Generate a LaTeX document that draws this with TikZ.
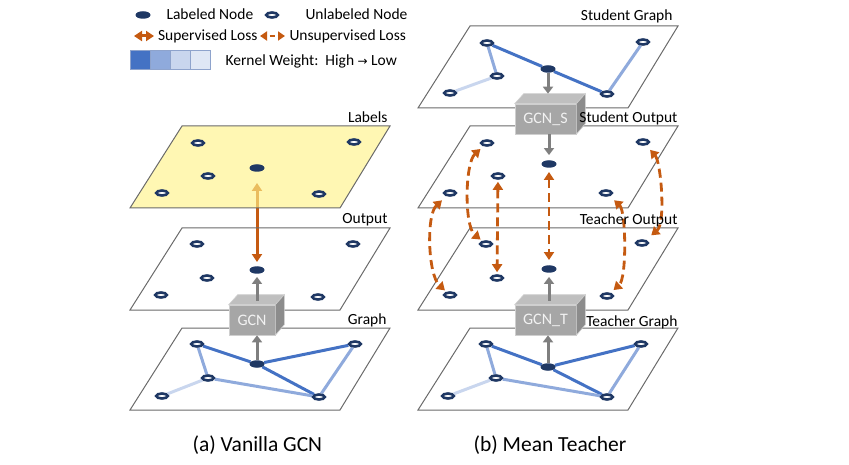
\documentclass[tikz,border=0pt]{standalone}
\usepackage{fontspec}
\setmainfont{Carlito}
\newfontfamily\dejavu{DejaVu Sans}
\usetikzlibrary{arrows.meta,shapes.geometric,calc}
\pgfdeclarelayer{under}
\pgfdeclarelayer{mid}
\pgfsetlayers{under,mid,main}
\definecolor{navy}{HTML}{1F3864}
\definecolor{kw1}{HTML}{4472C4}
\definecolor{kw2}{HTML}{8FAADC}
\definecolor{kw3}{HTML}{C9D6EE}
\definecolor{kw4}{HTML}{DFE7F5}
\definecolor{kwborder}{HTML}{8EA3CC}
\definecolor{orng}{HTML}{C55A11}
\definecolor{arrgray}{HTML}{7F7F7F}
\definecolor{planeline}{HTML}{6A6A6A}
\definecolor{lblyellow}{HTML}{FFF38A}
\definecolor{boxfrontc}{HTML}{A6A6A6}
\definecolor{boxtopc}{HTML}{BFBFBF}
\definecolor{boxsidec}{HTML}{8C8C8C}
\definecolor{boxedgec}{HTML}{CFCFCF}
\newcommand\myplane[3][]{%
  \draw[plane,#1] (#2,#3) -- ++(208,0) -- ++(-50,82) -- ++(-210,0) -- cycle;}
\newcommand\gcnfaces[1]{%
  \filldraw[fill=boxtopc, draw=boxedgec, line width=0.6pt] (#1.north west) -- ++(9,-10) -- ($(#1.north east)+(9,-10)$) -- (#1.north east) -- cycle;
  \filldraw[fill=boxsidec, draw=boxedgec, line width=0.6pt] (#1.north east) -- ++(9,-10) -- ++(0,30) -- (#1.south east) -- cycle;}
\begin{document}
\begin{tikzpicture}[x=1pt,y=-1pt,
  unl/.style={ellipse, draw=navy, line width=2.6pt, fill=white, minimum width=11.5pt, minimum height=5pt, inner sep=0pt},
  lab/.style={ellipse, fill=navy, minimum width=15pt, minimum height=7.5pt, inner sep=0pt},
  plane/.style={draw=planeline, line width=1pt},
  ehi/.style={draw=kw1, line width=3pt},
  emid/.style={draw=kw2, line width=3pt},
  elo/.style={draw=kw3, line width=3pt},
  garrow/.style={draw=arrgray, line width=3pt, -{Triangle[width=10pt,length=7pt]}},
  suparrow/.style={draw=orng, line width=3pt, {Triangle[width=10pt,length=8pt]}-{Triangle[width=10pt,length=8pt]}},
  unsarrow/.style={draw=orng, line width=2.8pt, dash pattern=on 9pt off 5pt, {Triangle[width=10pt,length=8pt]}-{Triangle[width=10pt,length=8pt]}},
  boxfront/.style={rectangle, fill=boxfrontc, draw=boxedgec, line width=0.6pt, minimum height=30pt, inner sep=0pt, text=white!95!black, font=\fontsize{16}{18}\selectfont},
  planelbl/.style={anchor=base east, font=\fontsize{15.5}{18}\selectfont},
  legtxt/.style={anchor=base west, font=\fontsize{15.5}{18}\selectfont},
  kbox/.style={rectangle, draw=kwborder, line width=0.8pt, minimum width=20pt, minimum height=19pt, inner sep=0pt},
  captxt/.style={anchor=base west, font=\fontsize{21.5}{26}\selectfont}
]
\useasboundingbox (0,0) rectangle (849,465);

% ---------- planes ----------
\begin{pgfonlayer}{mid}
\myplane[fill=lblyellow, fill opacity=0.65]{182}{126}
\myplane{182}{228}
\myplane{182}{328}
\myplane{470}{26}
\myplane{470}{126}
\myplane{470}{228}
\myplane{470}{328}
\end{pgfonlayer}

% ---------- legend ----------
\node[lab] (legL) at (143,15) {};
\node[legtxt] (legLt) at (163,20) {Labeled Node};
\node[unl] (legU) at (272,15) {};
\node[legtxt] (legUt) at (302,20) {Unlabeled Node};
\coordinate (sa1) at (134,36);
\coordinate (sa2) at (154,36);
\draw[suparrow] (sa1) -- (sa2);
\node[legtxt] (legSt) at (154.5,41) {Supervised Loss};
\coordinate (ua1) at (260,36);
\coordinate (ua2) at (285,36);
\draw[orng, line width=2.5pt, dash pattern=on 5pt off 3pt, dash phase=5pt, {Triangle[width=9pt,length=7pt]}-{Triangle[width=9pt,length=7pt]}] (ua1) -- (ua2);
\node[legtxt] (legUst) at (286,41) {Unsupervised Loss};
\node[kbox, fill=kw1] (k1) at (140,60) {};
\node[kbox, fill=kw2] (k2) at (160,60) {};
\node[kbox, fill=kw3] (k3) at (180,60) {};
\node[kbox, fill=kw4] (k4) at (200,60) {};
\node[legtxt] (legK) at (222,66) {Kernel Weight:\ \ High {\dejavu\fontsize{12}{12}\selectfont →} Low};

% ---------- left: Labels ----------
\node[unl] (l1) at (198,143) {};
\node[unl] (l2) at (354,142) {};
\node[lab] (lL) at (257,168) {};
\node[unl] (l3) at (208,176) {};
\node[unl] (l4) at (162,193) {};
\node[unl] (l5) at (319,194) {};
% ---------- left: Output ----------
\node[unl] (o1) at (197,244) {};
\node[unl] (o2) at (353,244) {};
\node[lab] (oL) at (257,270) {};
\node[unl] (o3) at (207,278) {};
\node[unl] (o4) at (161,295) {};
\node[unl] (o5) at (318,297) {};
% ---------- left: Graph ----------
\node[unl] (g1) at (197,344) {};
\node[unl] (g2) at (355,344) {};
\node[lab] (gL) at (257,364) {};
\node[unl] (g3) at (208,378) {};
\node[unl] (g4) at (162,396) {};
\node[unl] (g5) at (319,397) {};
% ---------- right: Student Graph ----------
\node[unl] (s1) at (487,43) {};
\node[unl] (s2) at (643,42) {};
\node[lab] (sL) at (548,69) {};
\node[unl] (s3) at (497,76) {};
\node[unl] (s4) at (450,93) {};
\node[unl] (s5) at (607,94) {};
% ---------- right: Student Output ----------
\node[unl] (so1) at (487,143) {};
\node[unl] (so2) at (643,142) {};
\node[lab] (soL) at (549,164) {};
\node[unl] (so3) at (498,176) {};
\node[unl] (so4) at (450,193) {};
\node[unl] (so5) at (606,193) {};
% ---------- right: Teacher Output ----------
\node[unl] (to1) at (486,244) {};
\node[unl] (to2) at (642,243) {};
\node[lab] (toL) at (549,269) {};
\node[unl] (to3) at (497,278) {};
\node[unl] (to4) at (450,295) {};
\node[unl] (to5) at (607,296) {};
% ---------- right: Teacher Graph ----------
\node[unl] (t1) at (486,344) {};
\node[unl] (t2) at (641,344) {};
\node[lab] (tL) at (548,367) {};
\node[unl] (t3) at (496,378) {};
\node[unl] (t4) at (448,396) {};
\node[unl] (t5) at (607,397) {};

% ---------- graph edges ----------
\begin{pgfonlayer}{mid}
\draw[ehi] (g1) -- (gL);
\draw[ehi] (gL) -- (g2);
\draw[ehi] (gL) -- (g5);
\draw[emid] (g1) -- (g3);
\draw[emid] (g3) -- (g5);
\draw[emid] (g2) -- (g5);
\draw[elo] (g3) -- (g4);
\draw[ehi] (s1) -- (sL);
\draw[ehi] (sL) -- (s5);
\draw[emid] (s1) -- (s3);
\draw[emid] (s2) -- (s5);
\draw[elo] (s3) -- (s4);
\draw[ehi] (t1) -- (tL);
\draw[ehi] (tL) -- (t2);
\draw[ehi] (tL) -- (t5);
\draw[emid] (t1) -- (t3);
\draw[emid] (t3) -- (t5);
\draw[emid] (t2) -- (t5);
\draw[elo] (t3) -- (t4);
\end{pgfonlayer}

% ---------- supervised loss (under the yellow plane) ----------
\begin{pgfonlayer}{under}
\draw[suparrow, shorten <=11pt, shorten >=4pt] (lL) -- (oL);
\end{pgfonlayer}

% ---------- GCN boxes ----------
\node[boxfront, minimum width=46pt] (gcn) at (252,320) {GCN};
\gcnfaces{gcn}
\node[boxfront, minimum width=61pt] (gcnS) at (545.5,119) {GCN\_S};
\gcnfaces{gcnS}
\node[boxfront, minimum width=61pt] (gcnT) at (545.5,320) {GCN\_T};
\gcnfaces{gcnT}

% ---------- gray arrows ----------
\draw[garrow] (gL) -- (gL |- gcn.south);
\draw[garrow, shorten >=3pt] ($(gcn.north -| oL)+(0,-4)$) -- (oL);
\draw[garrow] (sL) -- ($(gcnS.north -| sL)+(0,-10)$);
\draw[garrow, shorten >=5pt] (gcnS.south -| soL) -- (soL);
\draw[garrow] (tL) -- (tL |- gcnT.south);
\draw[garrow, shorten >=4pt] ($(gcnT.north -| toL)+(0,-4)$) -- (toL);

% ---------- unsupervised loss ----------
\draw[unsarrow, shorten <=4pt, shorten >=2pt] (so1) .. controls +(-22,20) and +(-22,-18) .. (to1);
\draw[unsarrow, shorten <=6pt, shorten >=2pt] (so4) .. controls +(-24,22) and +(-22,-20) .. (to4);
\draw[unsarrow, shorten <=2pt, shorten >=2pt] (so3) -- (to3);
\draw[unsarrow, shorten <=4pt, shorten >=5pt] (soL) -- (toL);
\draw[unsarrow, shorten <=6pt, shorten >=4pt] (so5) .. controls +(20,18) and +(20,-18) .. (to5);
\draw[unsarrow, shorten <=6pt, shorten >=7pt] (so2) .. controls +(18,20) and +(24,-20) .. (to2);

% ---------- plane labels ----------
\node[planelbl] (tLabels) at (391,123) {Labels};
\node[planelbl] (tOutput) at (391,224) {Output};
\node[planelbl] (tGraph) at (390,324) {Graph};
\node[planelbl] (tSG) at (676,21) {Student Graph};
\node[planelbl] (tSO) at (681,123) {Student Output};
\node[planelbl] (tTO) at (681,225) {Teacher Output};
\node[planelbl] (tTG) at (681,326) {Teacher Graph};

% ---------- captions ----------
\node[captxt] (capA) at (189,451) {(a) Vanilla GCN};
\node[captxt] (capB) at (470,451) {(b) Mean Teacher};
\end{tikzpicture}
\end{document}
